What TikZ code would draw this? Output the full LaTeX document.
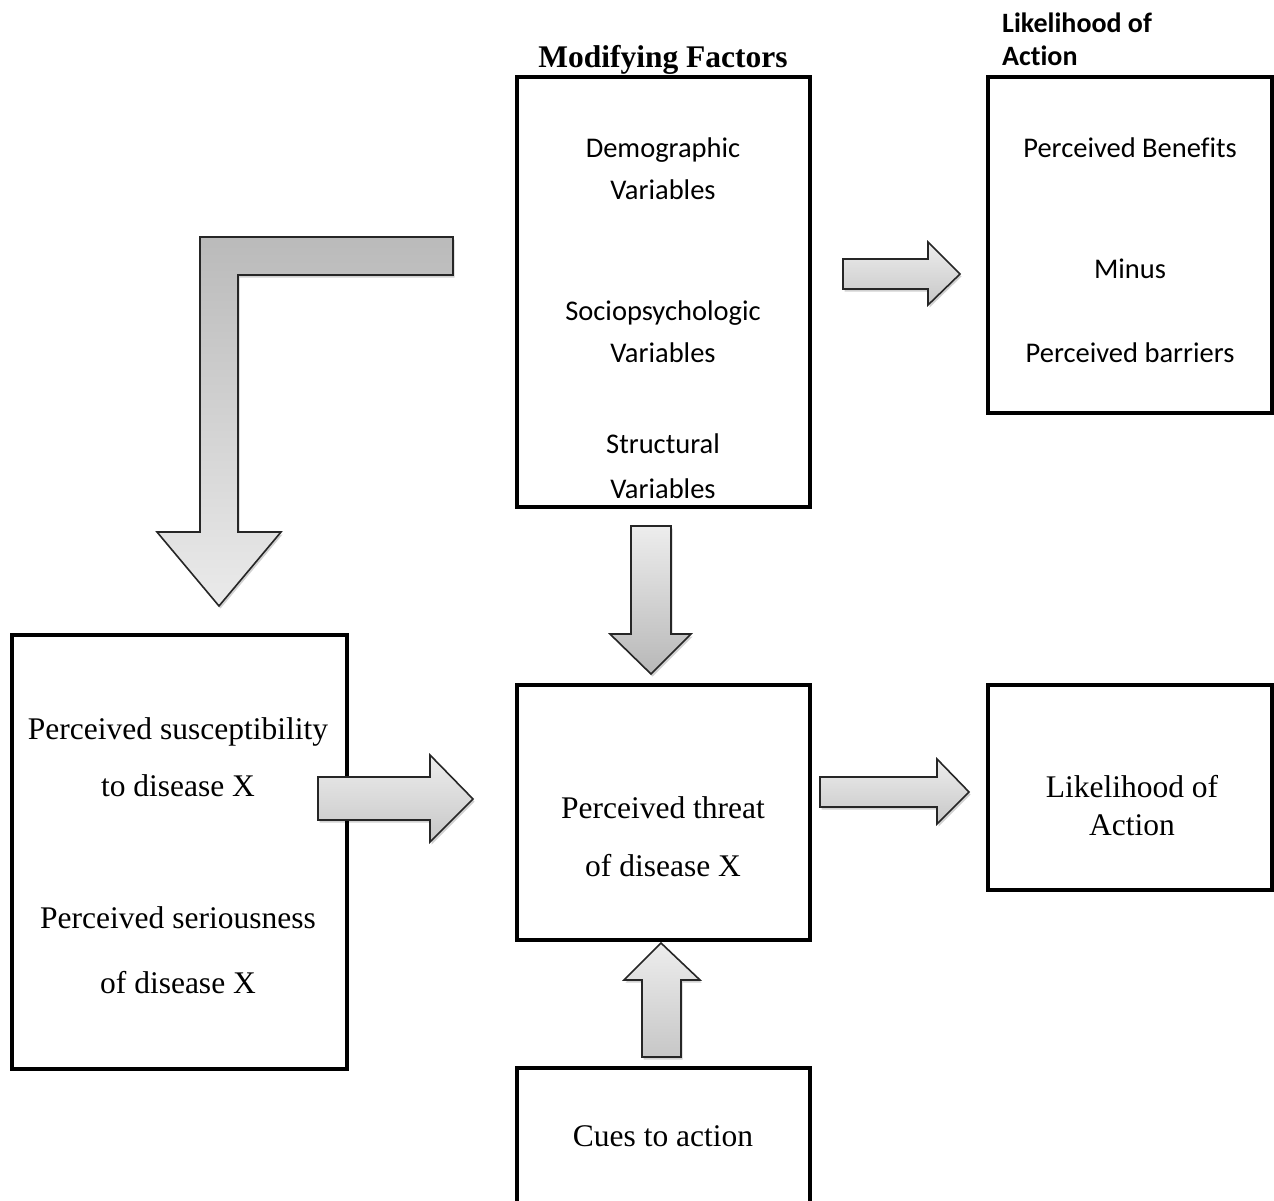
\documentclass[tikz,border=0pt]{standalone}
\usepackage{fontspec}
\setmainfont{Liberation Serif}
\newfontfamily\calib[Ligatures=NoCommon]{Carlito}
\usetikzlibrary{shadows}
\tikzset{
  box/.style={draw=black, line width=4pt, inner sep=0pt},
  serif/.style={font=\fontsize{31.5}{38}\selectfont, anchor=base, inner sep=0pt},
  serifb/.style={font=\bfseries\fontsize{31.5}{38}\selectfont, anchor=base, inner sep=0pt},
  sans/.style={font=\calib\fontsize{28.5}{34}\selectfont, anchor=base, inner sep=0pt},
  sansb/.style={font=\calib\bfseries\fontsize{28}{34}\selectfont, anchor=base west, inner sep=0pt},
  blockarrow/.style={draw=black!85, line width=1.6pt, line join=miter,
    drop shadow={shadow xshift=1.5pt, shadow yshift=-2.5pt, opacity=0.18, fill=black}},
  litedark/.style={top color=black!7, bottom color=black!22},
  darklite/.style={top color=black!27, bottom color=black!8},
}
\begin{document}
\begin{tikzpicture}[x=1pt,y=-1pt]
\useasboundingbox (0,0) rectangle (1274,1201);
\clip (0,0) rectangle (1274,1201);
\fill[white] (0,0) rectangle (1274,1201);

% boxes
\node[box, minimum width=293pt, minimum height=430pt] (mod) at (663.5,292) {};
\node[box, minimum width=284pt, minimum height=336pt] (benef) at (1130,245) {};
\node[box, minimum width=335pt, minimum height=434pt] (susc) at (179.5,852) {};
\node[box, minimum width=293pt, minimum height=255pt] (threat) at (663.5,812.5) {};
\node[box, minimum width=284pt, minimum height=205pt] (likely) at (1130,787.5) {};
\node[box, minimum width=293pt, minimum height=180pt] (cues) at (663.5,1158) {};

% headers
\node[serifb] (hmod) at (663,68) {Modifying Factors};
\node[sansb] (hlik1) at (1002,33) {Likelihood of};
\node[sansb] (hlik2) at (1002,66) {Action};

% modifying factors text
\node[sans] (m1) at (663,158) {Demographic};
\node[sans] (m2) at (663,200) {Variables};
\node[sans] (m3) at (663,320) {Sociopsychologic};
\node[sans] (m4) at (663,362) {Variables};
\node[sans] (m5) at (663,453) {Structural};
\node[sans] (m6) at (663,498) {Variables};

% benefits text
\node[sans] (b1) at (1130,158) {Perceived Benefits};
\node[sans] (b2) at (1130,278) {Minus};
\node[sans] (b3) at (1130,362) {Perceived barriers};

% susceptibility text
\node[serif] (s1) at (178,739) {Perceived susceptibility};
\node[serif] (s2) at (178,796) {to disease X};
\node[serif] (s3) at (178,928) {Perceived seriousness};
\node[serif] (s4) at (178,993) {of disease X};

% threat text
\node[serif] (t1) at (663,818) {Perceived threat};
\node[serif] (t2) at (663,876) {of disease X};

% likelihood text
\node[serif] (l1) at (1132,797) {Likelihood of};
\node[serif] (l2) at (1132,835) {Action};

% cues text
\node[serif] (c1) at (663,1146) {Cues to action};

% block arrows
\draw[blockarrow, darklite] (453,237) -- (200,237) -- (200,532) -- (157,532) -- (219,606)
  -- (281,532) -- (238,532) -- (238,275) -- (453,275) -- cycle;
\draw[blockarrow, litedark] (843,259) -- (928,259) -- (928,242) -- (960,274) -- (928,305)
  -- (928,289) -- (843,289) -- cycle;
\draw[blockarrow, top color=black!7, bottom color=black!28] (631,526) -- (671,526) -- (671,634)
  -- (691,634) -- (651,674) -- (610,634) -- (631,634) -- cycle;
\draw[blockarrow, litedark] (318,777) -- (430,777) -- (430,755) -- (473,799) -- (430,842)
  -- (430,820) -- (318,820) -- cycle;
\draw[blockarrow, litedark] (820,777) -- (937,777) -- (937,759) -- (969,792) -- (937,824)
  -- (937,807) -- (820,807) -- cycle;
\draw[blockarrow, litedark] (661,943) -- (700,980) -- (681,980) -- (681,1057) -- (642,1057)
  -- (642,980) -- (624,980) -- cycle;
\end{tikzpicture}
\end{document}
